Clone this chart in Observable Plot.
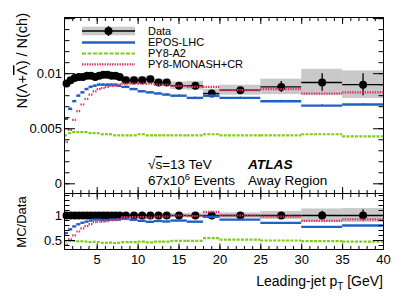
<!DOCTYPE html>
<html><head><meta charset="utf-8">
<script src="https://cdn.jsdelivr.net/npm/d3@7"></script>
<script src="https://cdn.jsdelivr.net/npm/@observablehq/plot@0.6"></script>
<style>
body{margin:0;background:#fff;}
#chart{position:relative;width:399px;height:299px;font-family:"Liberation Sans",Arial,sans-serif;}
#chart svg{position:absolute;left:0;overflow:visible;}
</style></head><body><div id="chart"></div>
<script>
// ---- data ----
const binEdges = [1,1.5,2,2.5,3,3.5,4,4.5,5,5.5,6,6.5,7,7.5,8,9,10,11,12,13,14,16,18,20,25,30,35,40];
const dataValues = [0.0091,0.0094,0.0096,0.0097,0.0097,0.0098,0.0098,0.0097,0.0098,0.0099,0.0099,0.0098,0.0098,0.0097,
                    0.0094,0.0094,0.0094,0.0095,0.0092,0.0092,0.0089,0.0089,0.0082,0.0085,0.0088,0.0092,0.0090];
const dataStat = [0.00004,0.00004,0.00004,0.00004,0.00004,0.00004,0.00004,0.00004,0.00004,0.00004,0.00004,0.00004,0.00004,0.00004,
                  0.00006,0.00006,0.00006,0.00006,0.00007,0.00008,0.0001,0.00012,0.00015,0.0002,0.0005,0.0008,0.001];
const dataSyst = [0.00025,0.00025,0.00025,0.00025,0.00025,0.00025,0.00025,0.00025,0.00025,0.00025,0.00025,0.00025,0.00025,0.00025,
                  0.0003,0.0003,0.0003,0.0003,0.0003,0.0003,0.00035,0.0004,0.0004,0.00045,0.0007,0.0012,0.00125];
const eposValues = [0.0059,0.0068,0.0075,0.0080,0.0083,0.0086,0.0088,0.0089,0.0090,0.0090,0.0090,0.0090,0.0090,0.0089,
                    0.0088,0.0086,0.0084,0.0083,0.0082,0.0081,0.0080,0.0078,0.0080,0.0078,0.0075,0.0071,0.0072];
const a2Values = [0.0044,0.0046,0.0047,0.0047,0.0047,0.0047,0.0046,0.0046,0.0046,0.0045,0.0045,0.0045,0.0044,0.0044,
                  0.0044,0.0044,0.0045,0.0044,0.0044,0.0044,0.0044,0.0044,0.0045,0.0044,0.0044,0.0045,0.0043];
const monashValues = [0.0038,0.0049,0.0058,0.0066,0.0072,0.0077,0.0081,0.0084,0.0086,0.0087,0.0088,0.0089,0.0089,0.0090,
                      0.0091,0.0091,0.0091,0.0091,0.0090,0.0090,0.0089,0.0088,0.0088,0.0085,0.0086,0.0082,0.0083];
const seriesNames = ["Data","EPOS-LHC","PY8-A2","PY8-MONASH+CR"];
const xTicks = [5,10,15,20,25,30,35,40];
const yTopTicks = [0,0.005,0.01];
const yRatioTicks = [0.5,1];

// ---- build table ----
const bins = dataValues.map((v,i)=>{
  const lo = binEdges[i], hi = binEdges[i+1];
  return {lo, hi, mid:(lo+hi)/2, v, stat:dataStat[i], sys:dataSyst[i],
          epos:eposValues[i], a2:a2Values[i], monash:monashValues[i]};
});

const BLUE="#2160c4", GREEN="#7ccd15", RED="#e0305e", GRAY="#c9c9c9";
const FONT='"Liberation Sans", Arial, sans-serif';
const xMinor = d3.range(1,41,1), xMajor = d3.range(5,41,5);
const plain = d => String(d);
const mcSpecs = [
  {key:"epos", stroke:BLUE, width:2.4, dash:null},
  {key:"a2", stroke:GREEN, width:2.2, dash:"3,1.3"},
  {key:"monash", stroke:RED, width:2.2, dash:"1.4,1.1"}
];

const chart = document.getElementById("chart");

// ---- top panel ----
const topMarks = [
  Plot.rect(bins,{x1:"lo",x2:"hi",y1:d=>d.v-d.sys,y2:d=>d.v+d.sys,fill:GRAY}),
  Plot.ruleY(bins,{x1:"lo",x2:"hi",y:"v",stroke:"black",strokeWidth:1.3}),
  Plot.ruleX(bins,{x:"mid",y1:d=>d.v-d.stat,y2:d=>d.v+d.stat,stroke:"black",strokeWidth:1.3}),
  Plot.dot(bins,{x:"mid",y:"v",r:4,fill:"black"}),
  ...mcSpecs.map(s=>Plot.ruleY(bins,{x1:"lo",x2:"hi",y:s.key,stroke:s.stroke,strokeWidth:s.width,strokeDasharray:s.dash})),
  Plot.ruleX(bins,{x:"mid",y1:d=>d.epos-0.00008,y2:d=>d.epos+0.00008,stroke:BLUE,strokeWidth:1.5}),
  Plot.frame({stroke:"black",strokeWidth:1}),
  Plot.axisX({ticks:xMinor,anchor:"bottom",tickSize:-3,tickFormat:()=>"",label:null}),
  Plot.axisX({ticks:xMajor,anchor:"bottom",tickSize:-6,tickFormat:()=>"",label:null}),
  Plot.axisX({ticks:xMinor,anchor:"top",tickSize:-3,tickFormat:()=>"",label:null}),
  Plot.axisX({ticks:xMajor,anchor:"top",tickSize:-6,tickFormat:()=>"",label:null}),
  Plot.axisY({ticks:d3.range(0,0.0155,0.001),anchor:"left",tickSize:-5.5,tickFormat:()=>"",label:null}),
  Plot.axisY({ticks:d3.range(0,0.0155,0.005),anchor:"left",tickSize:-11,tickFormat:()=>"",label:null}),
  Plot.axisY({ticks:d3.range(0,0.0155,0.001),anchor:"right",tickSize:-5.5,tickFormat:()=>"",label:null}),
  Plot.axisY({ticks:d3.range(0,0.0155,0.005),anchor:"right",tickSize:-11,tickFormat:()=>"",label:null}),
  Plot.axisY({ticks:yTopTicks,anchor:"left",tickSize:0,tickPadding:2.5,label:null,fontSize:13,tickFormat:plain})
];
const topPlot = Plot.plot({
  width:399,height:193,marginTop:17,marginBottom:0,marginLeft:64,marginRight:16,
  x:{domain:[1,40]},y:{domain:[-0.00088,0.0151]},
  style:{fontFamily:FONT,fontSize:"13px",background:"transparent",overflow:"visible",color:"black"},
  marks:topMarks
});
topPlot.style.top="0px";
chart.appendChild(topPlot);

// ---- ratio panel ----
const ratioMarks = [
  Plot.rect(bins,{x1:"lo",x2:"hi",y1:d=>1-d.sys/d.v,y2:d=>1+d.sys/d.v,fill:GRAY}),
  Plot.ruleY(bins,{x1:"lo",x2:"hi",y:()=>1,stroke:"black",strokeWidth:1.3}),
  Plot.ruleX(bins,{x:"mid",y1:d=>1-d.stat/d.v,y2:d=>1+d.stat/d.v,stroke:"black",strokeWidth:1.3}),
  Plot.dot(bins,{x:"mid",y:()=>1,r:4,fill:"black"}),
  ...mcSpecs.map(s=>Plot.ruleY(bins,{x1:"lo",x2:"hi",y:d=>d[s.key]/d.v,stroke:s.stroke,strokeWidth:s.width,strokeDasharray:s.dash})),
  Plot.frame({stroke:"black",strokeWidth:1}),
  Plot.axisX({ticks:xMinor,anchor:"bottom",tickSize:-3,tickFormat:()=>"",label:null}),
  Plot.axisX({ticks:xMajor,anchor:"bottom",tickSize:-5.5,tickFormat:()=>"",label:null}),
  Plot.axisX({ticks:xMinor,anchor:"top",tickSize:-3,tickFormat:()=>"",label:null}),
  Plot.axisX({ticks:xMajor,anchor:"top",tickSize:-5.5,tickFormat:()=>"",label:null}),
  Plot.axisY({ticks:d3.range(0.4,1.45,0.1),anchor:"left",tickSize:-5.5,tickFormat:()=>"",label:null}),
  Plot.axisY({ticks:yRatioTicks,anchor:"left",tickSize:-11,tickFormat:()=>"",label:null}),
  Plot.axisY({ticks:d3.range(0.4,1.45,0.1),anchor:"right",tickSize:-5.5,tickFormat:()=>"",label:null}),
  Plot.axisY({ticks:yRatioTicks,anchor:"right",tickSize:-11,tickFormat:()=>"",label:null}),
  Plot.axisY({ticks:yRatioTicks,anchor:"left",tickSize:0,tickPadding:2.5,label:null,fontSize:13,tickFormat:plain}),
  Plot.axisX({ticks:xTicks,anchor:"bottom",tickSize:0,tickPadding:5,label:null,fontSize:13,tickFormat:plain})
];
const ratioPlot = Plot.plot({
  width:399,height:106,marginTop:0,marginBottom:50,marginLeft:64,marginRight:16,
  x:{domain:[1,40]},y:{domain:[0.32,1.44]},
  style:{fontFamily:FONT,fontSize:"13px",background:"transparent",overflow:"visible",color:"black"},
  marks:ratioMarks
});
ratioPlot.style.top="193px";
chart.appendChild(ratioPlot);

// ---- overlay: titles, legend, annotations ----
const svg = d3.select(chart).append("svg")
  .attr("width",399).attr("height",299).style("top","0px")
  .style("font-family",FONT).style("pointer-events","none");

// y title (top)
const yt = svg.append("text").attr("transform","translate(27,13) rotate(-90)")
  .attr("text-anchor","end").attr("font-size",14.5);
yt.append("tspan").text("N(Λ+");
yt.append("tspan").style("text-decoration","overline").text("Λ");
yt.append("tspan").text(") / N(ch)");
// ratio title
svg.append("text").attr("transform","translate(26,222) rotate(-90)")
  .attr("text-anchor","middle").attr("font-size",13).text("MC/Data");
// x title
const xt = svg.append("text").attr("x",383).attr("y",286).attr("text-anchor","end").attr("font-size",14);
xt.append("tspan").text("Leading-jet p");
xt.append("tspan").attr("font-size",10).attr("dy",4).text("T");
xt.append("tspan").attr("dy",-4).text(" [GeV]");

// legend
const lx0=82, lx1=135, lxm=(lx0+lx1)/2, tx=148;
const rowsY=[31,42.5,53.5,64.3];
svg.append("rect").attr("x",lx0).attr("y",26.7).attr("width",lx1-lx0).attr("height",8.6).attr("fill",GRAY);
svg.append("line").attr("x1",lx0).attr("x2",lx1).attr("y1",rowsY[0]).attr("y2",rowsY[0]).attr("stroke","black").attr("stroke-width",1.3);
svg.append("line").attr("x1",lxm).attr("x2",lxm).attr("y1",26).attr("y2",36).attr("stroke","black").attr("stroke-width",1.3);
svg.append("circle").attr("cx",lxm).attr("cy",rowsY[0]).attr("r",4).attr("fill","black");
const legendStyles=[null,{stroke:BLUE,w:2.5,dash:null},{stroke:GREEN,w:2.2,dash:"4,1.5"},{stroke:RED,w:2.2,dash:"1.4,1.1"}];
legendStyles.forEach((s,i)=>{
  if(s) svg.append("line").attr("x1",lx0).attr("x2",lx1).attr("y1",rowsY[i]).attr("y2",rowsY[i])
    .attr("stroke",s.stroke).attr("stroke-width",s.w).attr("stroke-dasharray",s.dash);
  svg.append("text").attr("x",tx).attr("y",rowsY[i]+3.8).attr("font-size",11).text(seriesNames[i]);
});

// annotations
const a1 = svg.append("text").attr("x",148).attr("y",169).attr("font-size",13.5);
a1.append("tspan").text("√");
a1.append("tspan").style("text-decoration","overline").text("s");
a1.append("tspan").text("=13 TeV");
const a2 = svg.append("text").attr("x",148).attr("y",185).attr("font-size",13.5);
a2.append("tspan").text("67x10");
a2.append("tspan").attr("font-size",9.5).attr("dy",-5).text("6");
a2.append("tspan").attr("dy",5).text(" Events");
svg.append("text").attr("x",248).attr("y",169).attr("font-size",13.7)
  .attr("font-weight","bold").attr("font-style","italic").text("ATLAS");
svg.append("text").attr("x",248).attr("y",185).attr("font-size",13.5).text("Away Region");
</script></body></html>
